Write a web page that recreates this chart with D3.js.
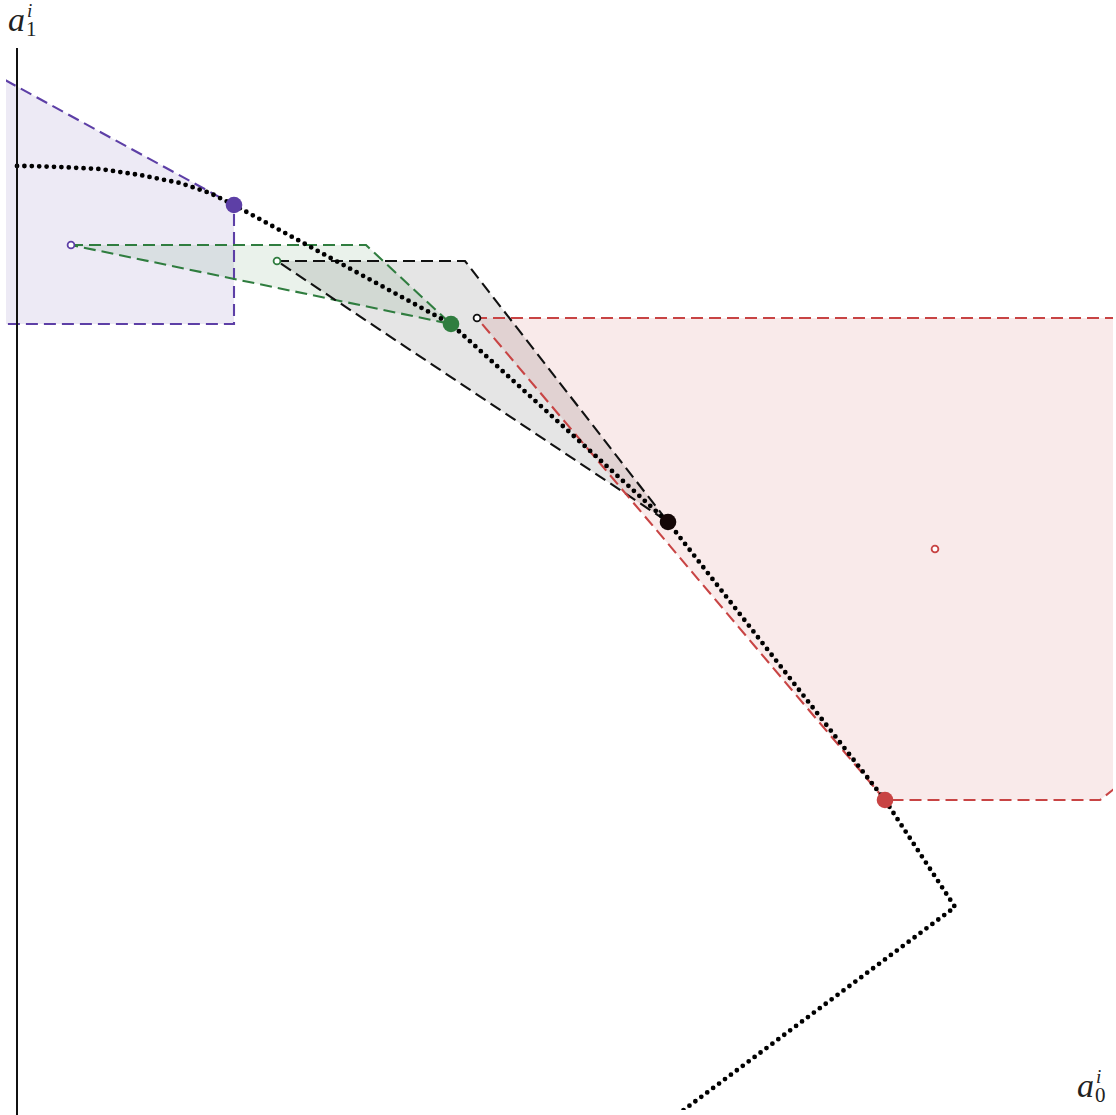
<!DOCTYPE html>
<html>
<head>
<meta charset="utf-8">
<script src="https://cdn.jsdelivr.net/npm/d3@7"></script>
<style>
  body { margin: 0; background: #fff; }
  svg { display: block; }
  .lbl { font-family: "Liberation Serif", "DejaVu Serif", serif; fill: #222; }
</style>
</head>
<body>
<svg width="1116" height="1115"></svg>
<script>
var svg = d3.select("svg"),
	width = +svg.attr("width"),
	height = +svg.attr("height");

// data, in chart units
var frontier = [[0, 0.942], [0.013, 0.942], [0.043, 0.941], [0.083, 0.939], [0.103, 0.936], [0.123, 0.933],
	[0.143, 0.929], [0.163, 0.925], [0.178, 0.920], [0.193, 0.915], [0.205, 0.909], [0.217, 0.903],
	[0.434, 0.784], [0.651, 0.586], [0.868, 0.308], [0.938, 0.201], [0.656, -0.01]];

var colors = ["#5d3fa6", "#2f7d3f", "#111111", "#c84444"];
var fillColors = ["rgba(93,63,166,0.11)", "rgba(47,125,63,0.10)", "rgba(0,0,0,0.10)", "rgba(200,68,68,0.11)"];
var activePoints = [[0.217, 0.903], [0.434, 0.784], [0.651, 0.586], [0.868, 0.308]];
var targetPoints = [[0.054, 0.863], [0.260, 0.847], [0.460, 0.790], [0.918, 0.559]];
var regions = [
	[[-0.012, 1.028], [0.217, 0.903], [0.217, 0.784], [-0.012, 0.784]],
	[[0.054, 0.863], [0.349, 0.863], [0.434, 0.784]],
	[[0.260, 0.847], [0.448, 0.847], [0.651, 0.586]],
	[[0.460, 0.790], [1.10, 0.790], [1.10, 0.321], [1.083, 0.308], [0.868, 0.308]]
];
// which edges get a dashed outline (open paths)
var outlines = [
	[[-0.012, 1.028], [0.217, 0.903], [0.217, 0.784], [-0.012, 0.784]],
	[[0.054, 0.863], [0.349, 0.863], [0.434, 0.784], [0.054, 0.863]],
	[[0.260, 0.847], [0.448, 0.847], [0.651, 0.586], [0.260, 0.847]],
	[[1.10, 0.790], [0.460, 0.790], [0.868, 0.308], [1.083, 0.308], [1.097, 0.319]]
];

var x = d3.scaleLinear().domain([0, 1.1]).range([17, 1117]);
var y = d3.scaleLinear().domain([0, 1.06]).range([1108, 48]);

var line = d3.line()
	.x(function(d) { return x(d[0]); })
	.y(function(d) { return y(d[1]); });

svg.append("defs").append("clipPath")
	.attr("id", "plotClip")
	.append("rect")
	.attr("x", 6).attr("y", 40)
	.attr("width", 1107).attr("height", 1070);

var plot = svg.append("g").attr("clip-path", "url(#plotClip)");

// shaded regions
plot.append("g")
	.selectAll("path")
	.data(regions)
	.enter().append("path")
	.attr("d", function(d) { return line(d) + "Z"; })
	.style("fill", function(d, i) { return fillColors[i]; })
	.style("stroke", "none");

// dashed outlines
plot.append("g")
	.selectAll("path")
	.data(outlines)
	.enter().append("path")
	.attr("d", line)
	.style("fill", "none")
	.style("stroke", function(d, i) { return colors[i]; })
	.style("stroke-width", 2.1)
	.style("stroke-dasharray", "12,6");

// axis line
svg.append("line")
	.attr("x1", x(0)).attr("x2", x(0))
	.attr("y1", 48).attr("y2", height)
	.style("stroke", "#111")
	.style("stroke-width", 2);

// dotted frontier
plot.append("path")
	.datum(frontier)
	.attr("d", line)
	.style("fill", "none")
	.style("stroke", "#000")
	.style("stroke-width", 4.8)
	.style("stroke-linecap", "round")
	.style("stroke-dasharray", "0,7.4");

// hollow target points
plot.append("g")
	.selectAll("circle")
	.data(targetPoints)
	.enter().append("circle")
	.attr("cx", function(d) { return x(d[0]); })
	.attr("cy", function(d) { return y(d[1]); })
	.attr("r", 3.4)
	.style("fill", "#fff")
	.style("stroke", function(d, i) { return colors[i]; })
	.style("stroke-width", 1.8);

// filled points
plot.append("g")
	.selectAll("circle")
	.data(activePoints)
	.enter().append("circle")
	.attr("cx", function(d) { return x(d[0]); })
	.attr("cy", function(d) { return y(d[1]); })
	.attr("r", 8.3)
	.style("fill", function(d, i) { return i == 2 ? "#140606" : colors[i]; });

// axis labels
function axisLabel(px, py, subText) {
	svg.append("text").attr("class", "lbl")
		.attr("x", px).attr("y", py)
		.style("font-size", "34px")
		.style("font-style", "italic")
		.text("a");
	svg.append("text").attr("class", "lbl")
		.attr("x", px + 18).attr("y", py + 5)
		.style("font-size", "21px")
		.text(subText);
	svg.append("text").attr("class", "lbl")
		.attr("x", px + 19).attr("y", py - 14)
		.style("font-size", "19px")
		.style("font-style", "italic")
		.text("i");
}
axisLabel(8, 31, "1");
axisLabel(1077, 1097, "0");
</script>
</body>
</html>
